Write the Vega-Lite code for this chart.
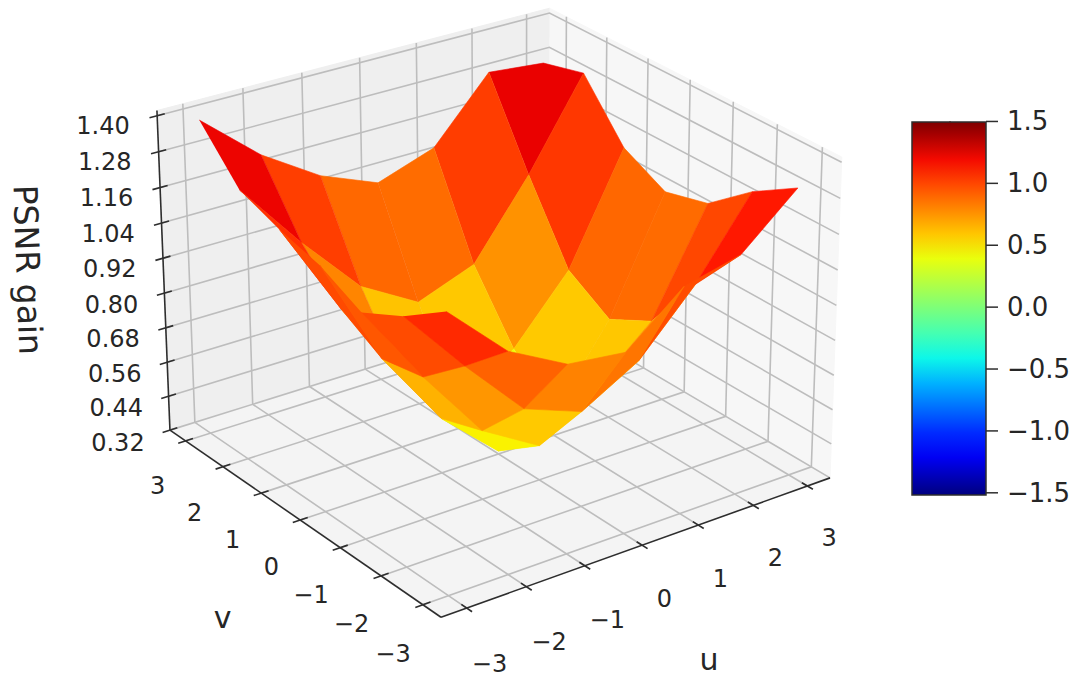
{
"$schema":"https://vega.github.io/schema/vega-lite/v6.json",
"autosize":{"type":"fit","contains":"padding"},"padding":0,"width":1077,"height":677,
"background":"white","view":{"stroke":null},
"config":{"font":"DejaVu Sans"},
"resolve":{"scale":{"fill":"independent"},"legend":{"fill":"independent"}},
"datasets":{
"panes":[
{"part":"wall_v","seq":[0,1,2,3],"u":[-3.425,3.425,3.425,-3.425],"v":[3.425,3.425,3.425,3.425],"z":[0.32,0.32,1.417,1.417]},
{"part":"wall_u","seq":[0,1,2,3],"u":[3.425,3.425,3.425,3.425],"v":[3.425,-3.425,-3.425,3.425],"z":[0.32,0.32,1.417,1.417]},
{"part":"floor","seq":[0,1,2,3],"u":[-3.425,3.425,3.425,-3.425],"v":[-3.425,-3.425,3.425,3.425],"z":[0.32,0.32,0.32,0.32]}
],
"grid":[
{"id":"u-3","seq":[0,1,2],"u":[-3,-3,-3],"v":[3.425,3.425,-3.425],"z":[1.417,0.32,0.32]},
{"id":"u-2","seq":[0,1,2],"u":[-2,-2,-2],"v":[3.425,3.425,-3.425],"z":[1.417,0.32,0.32]},
{"id":"u-1","seq":[0,1,2],"u":[-1,-1,-1],"v":[3.425,3.425,-3.425],"z":[1.417,0.32,0.32]},
{"id":"u0","seq":[0,1,2],"u":[0,0,0],"v":[3.425,3.425,-3.425],"z":[1.417,0.32,0.32]},
{"id":"u1","seq":[0,1,2],"u":[1,1,1],"v":[3.425,3.425,-3.425],"z":[1.417,0.32,0.32]},
{"id":"u2","seq":[0,1,2],"u":[2,2,2],"v":[3.425,3.425,-3.425],"z":[1.417,0.32,0.32]},
{"id":"u3","seq":[0,1,2],"u":[3,3,3],"v":[3.425,3.425,-3.425],"z":[1.417,0.32,0.32]},
{"id":"v-3","seq":[0,1,2],"u":[3.425,3.425,-3.425],"v":[-3,-3,-3],"z":[1.417,0.32,0.32]},
{"id":"v-2","seq":[0,1,2],"u":[3.425,3.425,-3.425],"v":[-2,-2,-2],"z":[1.417,0.32,0.32]},
{"id":"v-1","seq":[0,1,2],"u":[3.425,3.425,-3.425],"v":[-1,-1,-1],"z":[1.417,0.32,0.32]},
{"id":"v0","seq":[0,1,2],"u":[3.425,3.425,-3.425],"v":[0,0,0],"z":[1.417,0.32,0.32]},
{"id":"v1","seq":[0,1,2],"u":[3.425,3.425,-3.425],"v":[1,1,1],"z":[1.417,0.32,0.32]},
{"id":"v2","seq":[0,1,2],"u":[3.425,3.425,-3.425],"v":[2,2,2],"z":[1.417,0.32,0.32]},
{"id":"v3","seq":[0,1,2],"u":[3.425,3.425,-3.425],"v":[3,3,3],"z":[1.417,0.32,0.32]},
{"id":"z32","seq":[0,1,2],"u":[-3.425,3.425,3.425],"v":[3.425,3.425,-3.425],"z":[0.32,0.32,0.32]},
{"id":"z44","seq":[0,1,2],"u":[-3.425,3.425,3.425],"v":[3.425,3.425,-3.425],"z":[0.44,0.44,0.44]},
{"id":"z56","seq":[0,1,2],"u":[-3.425,3.425,3.425],"v":[3.425,3.425,-3.425],"z":[0.56,0.56,0.56]},
{"id":"z68","seq":[0,1,2],"u":[-3.425,3.425,3.425],"v":[3.425,3.425,-3.425],"z":[0.68,0.68,0.68]},
{"id":"z80","seq":[0,1,2],"u":[-3.425,3.425,3.425],"v":[3.425,3.425,-3.425],"z":[0.8,0.8,0.8]},
{"id":"z92","seq":[0,1,2],"u":[-3.425,3.425,3.425],"v":[3.425,3.425,-3.425],"z":[0.92,0.92,0.92]},
{"id":"z104","seq":[0,1,2],"u":[-3.425,3.425,3.425],"v":[3.425,3.425,-3.425],"z":[1.04,1.04,1.04]},
{"id":"z116","seq":[0,1,2],"u":[-3.425,3.425,3.425],"v":[3.425,3.425,-3.425],"z":[1.16,1.16,1.16]},
{"id":"z128","seq":[0,1,2],"u":[-3.425,3.425,3.425],"v":[3.425,3.425,-3.425],"z":[1.28,1.28,1.28]},
{"id":"z140","seq":[0,1,2],"u":[-3.425,3.425,3.425],"v":[3.425,3.425,-3.425],"z":[1.4,1.4,1.4]}
],
"axes":[
{"id":"au","seq":[0,1],"u":[-3.425,3.425],"v":[-3.425,-3.425],"z":[0.32,0.32]},
{"id":"av","seq":[0,1],"u":[-3.425,-3.425],"v":[-3.425,3.425],"z":[0.32,0.32]},
{"id":"az","seq":[0,1],"u":[-3.425,-3.425],"v":[3.425,3.425],"z":[0.32,1.417]},
{"id":"tu-3","seq":[0,1],"u":[-3,-3],"v":[-3.3,-3.55],"z":[0.32,0.32]},
{"id":"tu-2","seq":[0,1],"u":[-2,-2],"v":[-3.3,-3.55],"z":[0.32,0.32]},
{"id":"tu-1","seq":[0,1],"u":[-1,-1],"v":[-3.3,-3.55],"z":[0.32,0.32]},
{"id":"tu0","seq":[0,1],"u":[0,0],"v":[-3.3,-3.55],"z":[0.32,0.32]},
{"id":"tu1","seq":[0,1],"u":[1,1],"v":[-3.3,-3.55],"z":[0.32,0.32]},
{"id":"tu2","seq":[0,1],"u":[2,2],"v":[-3.3,-3.55],"z":[0.32,0.32]},
{"id":"tu3","seq":[0,1],"u":[3,3],"v":[-3.3,-3.55],"z":[0.32,0.32]},
{"id":"tv-3","seq":[0,1],"u":[-3.3,-3.55],"v":[-3,-3],"z":[0.32,0.32]},
{"id":"tv-2","seq":[0,1],"u":[-3.3,-3.55],"v":[-2,-2],"z":[0.32,0.32]},
{"id":"tv-1","seq":[0,1],"u":[-3.3,-3.55],"v":[-1,-1],"z":[0.32,0.32]},
{"id":"tv0","seq":[0,1],"u":[-3.3,-3.55],"v":[0,0],"z":[0.32,0.32]},
{"id":"tv1","seq":[0,1],"u":[-3.3,-3.55],"v":[1,1],"z":[0.32,0.32]},
{"id":"tv2","seq":[0,1],"u":[-3.3,-3.55],"v":[2,2],"z":[0.32,0.32]},
{"id":"tv3","seq":[0,1],"u":[-3.3,-3.55],"v":[3,3],"z":[0.32,0.32]},
{"id":"tz32","seq":[0,1],"u":[-3.3,-3.55],"v":[3.425,3.425],"z":[0.32,0.32]},
{"id":"tz44","seq":[0,1],"u":[-3.3,-3.55],"v":[3.425,3.425],"z":[0.44,0.44]},
{"id":"tz56","seq":[0,1],"u":[-3.3,-3.55],"v":[3.425,3.425],"z":[0.56,0.56]},
{"id":"tz68","seq":[0,1],"u":[-3.3,-3.55],"v":[3.425,3.425],"z":[0.68,0.68]},
{"id":"tz80","seq":[0,1],"u":[-3.3,-3.55],"v":[3.425,3.425],"z":[0.8,0.8]},
{"id":"tz92","seq":[0,1],"u":[-3.3,-3.55],"v":[3.425,3.425],"z":[0.92,0.92]},
{"id":"tz104","seq":[0,1],"u":[-3.3,-3.55],"v":[3.425,3.425],"z":[1.04,1.04]},
{"id":"tz116","seq":[0,1],"u":[-3.3,-3.55],"v":[3.425,3.425],"z":[1.16,1.16]},
{"id":"tz128","seq":[0,1],"u":[-3.3,-3.55],"v":[3.425,3.425],"z":[1.28,1.28]},
{"id":"tz140","seq":[0,1],"u":[-3.3,-3.55],"v":[3.425,3.425],"z":[1.4,1.4]}
],
"surface":[
{"f":"5_5","c":[0,1,2,3],"u":[2,3,3,2],"v":[2,2,3,3],"z":[1.014,1.315,1.277,1.296]},
{"f":"4_5","c":[0,1,2,3],"u":[1,2,2,1],"v":[2,2,3,3],"z":[0.756,1.014,1.296,1.086]},
{"f":"5_4","c":[0,1,2,3],"u":[2,3,3,2],"v":[1,1,2,2],"z":[0.759,1.131,1.315,1.014]},
{"f":"3_5","c":[0,1,2,3],"u":[0,1,1,0],"v":[2,2,3,3],"z":[0.682,0.756,1.086,1.019]},
{"f":"4_4","c":[0,1,2,3],"u":[1,2,2,1],"v":[1,1,2,2],"z":[0.54,0.759,1.014,0.756]},
{"f":"5_3","c":[0,1,2,3],"u":[2,3,3,2],"v":[0,0,1,1],"z":[0.669,1.056,1.131,0.759]},
{"f":"2_5","c":[0,1,2,3],"u":[-1,0,0,-1],"v":[2,2,3,3],"z":[0.797,0.682,1.019,1.099]},
{"f":"3_4","c":[0,1,2,3],"u":[0,1,1,0],"v":[1,1,2,2],"z":[0.4,0.54,0.756,0.682]},
{"f":"4_3","c":[0,1,2,3],"u":[1,2,2,1],"v":[0,0,1,1],"z":[0.4,0.669,0.759,0.54]},
{"f":"5_2","c":[0,1,2,3],"u":[2,3,3,2],"v":[-1,-1,0,0],"z":[0.747,1.095,1.056,0.669]},
{"f":"1_5","c":[0,1,2,3],"u":[-2,-1,-1,-2],"v":[2,2,3,3],"z":[1.007,0.797,1.099,1.225]},
{"f":"2_4","c":[0,1,2,3],"u":[-1,0,0,-1],"v":[1,1,2,2],"z":[0.567,0.4,0.682,0.797]},
{"f":"3_3","c":[0,1,2,3],"u":[0,1,1,0],"v":[0,0,1,1],"z":[0.33,0.4,0.54,0.4]},
{"f":"4_2","c":[0,1,2,3],"u":[1,2,2,1],"v":[-1,-1,0,0],"z":[0.58,0.747,0.669,0.4]},
{"f":"5_1","c":[0,1,2,3],"u":[2,3,3,2],"v":[-2,-2,-1,-1],"z":[0.958,1.214,1.095,0.747]},
{"f":"0_5","c":[0,1,2,3],"u":[-3,-2,-2,-3],"v":[2,2,3,3],"z":[1.24,1.007,1.225,1.395]},
{"f":"1_4","c":[0,1,2,3],"u":[-2,-1,-1,-2],"v":[1,1,2,2],"z":[0.861,0.567,0.797,1.007]},
{"f":"2_3","c":[0,1,2,3],"u":[-1,0,0,-1],"v":[0,0,1,1],"z":[0.51,0.33,0.4,0.567]},
{"f":"3_2","c":[0,1,2,3],"u":[0,1,1,0],"v":[-1,-1,0,0],"z":[0.44,0.58,0.4,0.33]},
{"f":"4_1","c":[0,1,2,3],"u":[1,2,2,1],"v":[-2,-2,-1,-1],"z":[0.758,0.958,0.747,0.58]},
{"f":"5_0","c":[0,1,2,3],"u":[2,3,3,2],"v":[-3,-3,-2,-2],"z":[1.14,1.305,1.214,0.958]},
{"f":"0_4","c":[0,1,2,3],"u":[-3,-2,-2,-3],"v":[1,1,2,2],"z":[1.189,0.861,1.007,1.24]},
{"f":"1_3","c":[0,1,2,3],"u":[-2,-1,-1,-2],"v":[0,0,1,1],"z":[0.779,0.51,0.567,0.861]},
{"f":"2_2","c":[0,1,2,3],"u":[-1,0,0,-1],"v":[-1,-1,0,0],"z":[0.558,0.44,0.33,0.51]},
{"f":"3_1","c":[0,1,2,3],"u":[0,1,1,0],"v":[-2,-2,-1,-1],"z":[0.648,0.758,0.58,0.44]},
{"f":"4_0","c":[0,1,2,3],"u":[1,2,2,1],"v":[-3,-3,-2,-2],"z":[1.094,1.14,0.958,0.758]},
{"f":"0_3","c":[0,1,2,3],"u":[-3,-2,-2,-3],"v":[0,0,1,1],"z":[1.152,0.779,0.861,1.189]},
{"f":"1_2","c":[0,1,2,3],"u":[-2,-1,-1,-2],"v":[-1,-1,0,0],"z":[0.805,0.558,0.51,0.779]},
{"f":"2_1","c":[0,1,2,3],"u":[-1,0,0,-1],"v":[-2,-2,-1,-1],"z":[0.722,0.648,0.44,0.558]},
{"f":"3_0","c":[0,1,2,3],"u":[0,1,1,0],"v":[-3,-3,-2,-2],"z":[0.936,1.094,0.758,0.648]},
{"f":"0_2","c":[0,1,2,3],"u":[-3,-2,-2,-3],"v":[-1,-1,0,0],"z":[1.081,0.805,0.779,1.152]},
{"f":"1_1","c":[0,1,2,3],"u":[-2,-1,-1,-2],"v":[-2,-2,-1,-1],"z":[0.929,0.722,0.558,0.805]},
{"f":"2_0","c":[0,1,2,3],"u":[-1,0,0,-1],"v":[-3,-3,-2,-2],"z":[0.959,0.936,0.648,0.722]},
{"f":"0_1","c":[0,1,2,3],"u":[-3,-2,-2,-3],"v":[-2,-2,-1,-1],"z":[1.153,0.929,0.805,1.081]},
{"f":"1_0","c":[0,1,2,3],"u":[-2,-1,-1,-2],"v":[-3,-3,-2,-2],"z":[1.064,0.959,0.722,0.929]},
{"f":"0_0","c":[0,1,2,3],"u":[-3,-2,-2,-3],"v":[-3,-3,-2,-2],"z":[1.253,1.064,0.929,1.153]}
],
"ticklabels":[
{"label":"−3","u":-3,"v":-3.95,"z":0.18},{"label":"−2","u":-2,"v":-3.95,"z":0.18},{"label":"−1","u":-1,"v":-3.95,"z":0.18},{"label":"0","u":0,"v":-3.95,"z":0.18},{"label":"1","u":1,"v":-3.95,"z":0.18},{"label":"2","u":2,"v":-3.95,"z":0.18},{"label":"3","u":3,"v":-3.95,"z":0.18},
{"label":"−3","u":-3.925,"v":-3,"z":0.188},{"label":"−2","u":-3.925,"v":-2,"z":0.188},{"label":"−1","u":-3.925,"v":-1,"z":0.188},{"label":"0","u":-3.925,"v":0,"z":0.188},{"label":"1","u":-3.925,"v":1,"z":0.188},{"label":"2","u":-3.925,"v":2,"z":0.188},{"label":"3","u":-3.925,"v":3,"z":0.188},
{"label":"0.32","u":-4.3,"v":3.425,"z":0.33},{"label":"0.44","u":-4.3,"v":3.425,"z":0.45},{"label":"0.56","u":-4.3,"v":3.425,"z":0.57},{"label":"0.68","u":-4.3,"v":3.425,"z":0.69},{"label":"0.80","u":-4.3,"v":3.425,"z":0.81},{"label":"0.92","u":-4.3,"v":3.425,"z":0.93},{"label":"1.04","u":-4.3,"v":3.425,"z":1.05},{"label":"1.16","u":-4.3,"v":3.425,"z":1.17},{"label":"1.28","u":-4.3,"v":3.425,"z":1.29},{"label":"1.40","u":-4.3,"v":3.425,"z":1.41}
],
"titles":[
{"label":"u","u":0,"v":-4.97,"z":0.07},
{"label":"v","u":-4.75,"v":0,"z":0.07}
],
"ztitle":[{"label":"PSNR gain","u":-5.625,"v":3.425,"z":1.01}],
"cbticks":[{"cb":-1.5,"label":"−1.5"},{"cb":-1,"label":"−1.0"},{"cb":-0.5,"label":"−0.5"},{"cb":0,"label":"0.0"},{"cb":0.5,"label":"0.5"},{"cb":1,"label":"1.0"},{"cb":1.5,"label":"1.5"}]
},
"encoding":{
"x":{"field":"px","type":"quantitative","scale":{"domain":[0,1077],"nice":false,"zero":false},"axis":null},
"y":{"field":"py","type":"quantitative","scale":{"domain":[677,0],"nice":false,"zero":false},"axis":null}
},
"layer":[
{"data":{"name":"panes"},
"transform":[{"flatten":["seq","u","v","z"]},{"calculate":"0.5+0.146*datum.u","as":"s"},{"calculate":"0.5+0.146*datum.v","as":"t"},{"calculate":"(datum.z-0.32)/1.097","as":"r"},{"calculate":"1+0.07*datum.s+0.08*datum.t-0.039*datum.r","as":"w"},{"calculate":"(441+447.1*datum.s-257.4*datum.t-20.2*datum.r)/datum.w","as":"px"},{"calculate":"(620-106.4*datum.s-153.4*datum.t-351*datum.r)/datum.w","as":"py"},{"filter":"datum.part=='wall_v'"}],
"mark":{"type":"line","filled":true,"fill":"#efefef","stroke":"#efefef","strokeWidth":1,"clip":false},
"encoding":{"order":{"field":"seq"}}},
{"data":{"name":"panes"},
"transform":[{"flatten":["seq","u","v","z"]},{"calculate":"0.5+0.146*datum.u","as":"s"},{"calculate":"0.5+0.146*datum.v","as":"t"},{"calculate":"(datum.z-0.32)/1.097","as":"r"},{"calculate":"1+0.07*datum.s+0.08*datum.t-0.039*datum.r","as":"w"},{"calculate":"(441+447.1*datum.s-257.4*datum.t-20.2*datum.r)/datum.w","as":"px"},{"calculate":"(620-106.4*datum.s-153.4*datum.t-351*datum.r)/datum.w","as":"py"},{"filter":"datum.part=='wall_u'"}],
"mark":{"type":"line","filled":true,"fill":"#f7f7f7","stroke":"#f7f7f7","strokeWidth":1},
"encoding":{"order":{"field":"seq"}}},
{"data":{"name":"panes"},
"transform":[{"flatten":["seq","u","v","z"]},{"calculate":"0.5+0.146*datum.u","as":"s"},{"calculate":"0.5+0.146*datum.v","as":"t"},{"calculate":"(datum.z-0.32)/1.097","as":"r"},{"calculate":"1+0.07*datum.s+0.08*datum.t-0.039*datum.r","as":"w"},{"calculate":"(441+447.1*datum.s-257.4*datum.t-20.2*datum.r)/datum.w","as":"px"},{"calculate":"(620-106.4*datum.s-153.4*datum.t-351*datum.r)/datum.w","as":"py"},{"filter":"datum.part=='floor'"}],
"mark":{"type":"line","filled":true,"fill":"#f4f4f4","stroke":"#f4f4f4","strokeWidth":1},
"encoding":{"order":{"field":"seq"}}},
{"data":{"name":"grid"},
"transform":[{"flatten":["seq","u","v","z"]},{"calculate":"0.5+0.146*datum.u","as":"s"},{"calculate":"0.5+0.146*datum.v","as":"t"},{"calculate":"(datum.z-0.32)/1.097","as":"r"},{"calculate":"1+0.07*datum.s+0.08*datum.t-0.039*datum.r","as":"w"},{"calculate":"(441+447.1*datum.s-257.4*datum.t-20.2*datum.r)/datum.w","as":"px"},{"calculate":"(620-106.4*datum.s-153.4*datum.t-351*datum.r)/datum.w","as":"py"}],
"mark":{"type":"line","stroke":"#bdbdbd","strokeWidth":1.6},
"encoding":{"detail":{"field":"id"},"order":{"field":"seq"}}},
{"data":{"name":"axes"},
"transform":[{"flatten":["seq","u","v","z"]},{"calculate":"0.5+0.146*datum.u","as":"s"},{"calculate":"0.5+0.146*datum.v","as":"t"},{"calculate":"(datum.z-0.32)/1.097","as":"r"},{"calculate":"1+0.07*datum.s+0.08*datum.t-0.039*datum.r","as":"w"},{"calculate":"(441+447.1*datum.s-257.4*datum.t-20.2*datum.r)/datum.w","as":"px"},{"calculate":"(620-106.4*datum.s-153.4*datum.t-351*datum.r)/datum.w","as":"py"}],
"mark":{"type":"line","stroke":"#2e2e2e","strokeWidth":1.6},
"encoding":{"detail":{"field":"id"},"order":{"field":"seq"}}},
{"data":{"name":"surface"},
"transform":[{"flatten":["c","u","v","z"]},{"joinaggregate":[{"op":"mean","field":"z","as":"fz"}],"groupby":["f"]},{"calculate":"0.5+0.146*datum.u","as":"s"},{"calculate":"0.5+0.146*datum.v","as":"t"},{"calculate":"(datum.z-0.32)/1.097","as":"r"},{"calculate":"1+0.07*datum.s+0.08*datum.t-0.039*datum.r","as":"w"},{"calculate":"(441+447.1*datum.s-257.4*datum.t-20.2*datum.r)/datum.w","as":"px"},{"calculate":"(620-106.4*datum.s-153.4*datum.t-351*datum.r)/datum.w","as":"py"}],
"mark":{"type":"line","filled":true,"strokeWidth":0.6,"strokeJoin":"round"},
"encoding":{
"detail":{"field":"f"},"order":{"field":"c"},
"fill":{"field":"fz","type":"quantitative",
"scale":{"interpolate":"rgb","domain":[-1.5,-1.17,-1.125,-0.48,-0.45,-0.375,0.42,0.45,0.48,1.17,1.23,1.5],"range":["#00007f","#0000ff","#0000ff","#00dbff","#00e6f7","#14ffe2","#eeff08","#f7f500","#ffec00","#ff1300","#e80000","#7f0000"]},
"legend":null},
"stroke":{"field":"fz","type":"quantitative",
"scale":{"interpolate":"rgb","domain":[-1.5,-1.17,-1.125,-0.48,-0.45,-0.375,0.42,0.45,0.48,1.17,1.23,1.5],"range":["#00007f","#0000ff","#0000ff","#00dbff","#00e6f7","#14ffe2","#eeff08","#f7f500","#ffec00","#ff1300","#e80000","#7f0000"]},
"legend":null}
}},
{"data":{"name":"ticklabels"},
"transform":[{"calculate":"0.5+0.146*datum.u","as":"s"},{"calculate":"0.5+0.146*datum.v","as":"t"},{"calculate":"(datum.z-0.32)/1.097","as":"r"},{"calculate":"1+0.07*datum.s+0.08*datum.t-0.039*datum.r","as":"w"},{"calculate":"(441+447.1*datum.s-257.4*datum.t-20.2*datum.r)/datum.w","as":"px"},{"calculate":"(620-106.4*datum.s-153.4*datum.t-351*datum.r)/datum.w","as":"py"}],
"mark":{"type":"text","fontSize":24,"font":"DejaVu Sans","color":"#262626","align":"center","baseline":"middle"},
"encoding":{"text":{"field":"label"}}},
{"data":{"name":"titles"},
"transform":[{"calculate":"0.5+0.146*datum.u","as":"s"},{"calculate":"0.5+0.146*datum.v","as":"t"},{"calculate":"(datum.z-0.32)/1.097","as":"r"},{"calculate":"1+0.07*datum.s+0.08*datum.t-0.039*datum.r","as":"w"},{"calculate":"(441+447.1*datum.s-257.4*datum.t-20.2*datum.r)/datum.w","as":"px"},{"calculate":"(620-106.4*datum.s-153.4*datum.t-351*datum.r)/datum.w","as":"py"}],
"mark":{"type":"text","fontSize":30,"font":"DejaVu Sans","color":"#262626","align":"center","baseline":"middle"},
"encoding":{"text":{"field":"label"}}},
{"data":{"name":"ztitle"},
"transform":[{"calculate":"0.5+0.146*datum.u","as":"s"},{"calculate":"0.5+0.146*datum.v","as":"t"},{"calculate":"(datum.z-0.32)/1.097","as":"r"},{"calculate":"1+0.07*datum.s+0.08*datum.t-0.039*datum.r","as":"w"},{"calculate":"(441+447.1*datum.s-257.4*datum.t-20.2*datum.r)/datum.w","as":"px"},{"calculate":"(620-106.4*datum.s-153.4*datum.t-351*datum.r)/datum.w","as":"py"}],
"mark":{"type":"text","fontSize":33,"font":"DejaVu Sans","color":"#262626","align":"center","baseline":"middle","angle":88},
"encoding":{"text":{"field":"label"}}},
{"data":{"name":"cbticks"},
"transform":[{"calculate":"950","as":"px"},{"calculate":"122+(1.5-datum.cb)*373/3","as":"py"}],
"mark":{"type":"rect","width":1,"height":1},
"encoding":{
"fill":{"field":"cb","type":"quantitative",
"scale":{"interpolate":"rgb","domain":[-1.5,-1.17,-1.125,-0.48,-0.45,-0.375,0.42,0.45,0.48,1.17,1.23,1.5],"range":["#00007f","#0000ff","#0000ff","#00dbff","#00e6f7","#14ffe2","#eeff08","#f7f500","#ffec00","#ff1300","#e80000","#7f0000"]},
"legend":{"type":"gradient","title":null,"orient":"none","direction":"vertical","legendX":912,"legendY":122,"gradientLength":373,"gradientThickness":74,"gradientStrokeColor":"#2e2e2e","gradientStrokeWidth":1.5,"values":[-1.5,1.5],"labelExpr":"''","labelFontSize":1,"labelOverlap":false}}
}},
{"data":{"name":"cbticks"},
"transform":[{"calculate":"986","as":"px"},{"calculate":"998","as":"px2"},{"calculate":"122+(1.5-datum.cb)*373/3","as":"py"}],
"mark":{"type":"rule","stroke":"#2e2e2e","strokeWidth":1.5},
"encoding":{"x2":{"field":"px2"}}},
{"data":{"name":"cbticks"},
"transform":[{"calculate":"1007","as":"px"},{"calculate":"123+(1.5-datum.cb)*373/3","as":"py"}],
"mark":{"type":"text","fontSize":26,"font":"DejaVu Sans","color":"#262626","align":"left","baseline":"middle"},
"encoding":{"text":{"field":"label"}}}
]
}
